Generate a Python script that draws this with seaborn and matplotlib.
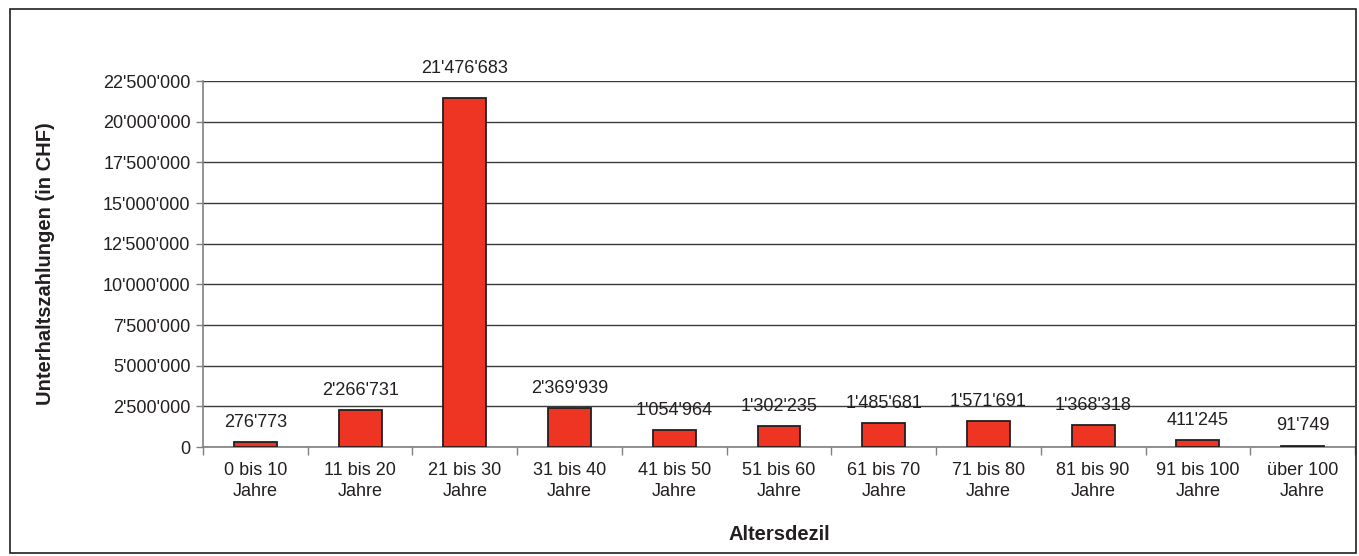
import matplotlib
matplotlib.use("Agg")
import matplotlib.pyplot as plt
import seaborn as sns
import pandas as pd
from matplotlib.patches import Rectangle
from matplotlib.ticker import FixedLocator

categories = ["0 bis 10\nJahre", "11 bis 20\nJahre", "21 bis 30\nJahre", "31 bis 40\nJahre",
              "41 bis 50\nJahre", "51 bis 60\nJahre", "61 bis 70\nJahre", "71 bis 80\nJahre",
              "81 bis 90\nJahre", "91 bis 100\nJahre", "über 100\nJahre"]
values = [276773, 2266731, 21476683, 2369939, 1054964, 1302235, 1485681, 1571691, 1368318, 411245, 91749]
yticks = [0, 2500000, 5000000, 7500000, 10000000, 12500000, 15000000, 17500000, 20000000, 22500000]

def fmt(v):
    return f"{v:,}".replace(",", "'")

sns.set_theme(style="white")
plt.rcParams['font.family'] = ['Liberation Sans', 'DejaVu Sans']

FS = 13
LFS = 14.5
TC = "#231f20"
df = pd.DataFrame({"cat": categories, "val": values})

fig = plt.figure(figsize=(13.59, 5.56), dpi=100)
ax = fig.add_axes([203/1359, 1-447/556, (1355-203)/1359, (447-81)/556])

sns.barplot(data=df, x="cat", y="val", ax=ax, color="#EE3524", saturation=1,
            width=0.41, edgecolor=TC, linewidth=1.3, zorder=3)

ymax = yticks[-1]
ax.set_xlim(-0.5, len(categories)-0.5)
ax.set_ylim(0, ymax)
ax.set_yticks(yticks)
ax.set_yticklabels([fmt(v) for v in yticks], fontsize=FS, color=TC)
ax.yaxis.grid(True, color="#3a3a3a", linewidth=1.0, zorder=0)
ax.set_axisbelow(True)

ax.set_xticks(range(len(categories)))
ax.set_xticklabels(categories, fontsize=FS, color=TC, linespacing=1.25)
ax.tick_params(axis="x", length=0, pad=11)
ax.xaxis.set_minor_locator(FixedLocator([i - 0.5 for i in range(len(categories)+1)]))
ax.tick_params(axis="x", which="minor", length=6, width=1, color="#808080", direction="out", bottom=True)
ax.tick_params(axis="y", length=5, width=1, color="#808080", direction="out", left=True, pad=4)

for s in ["top", "right"]:
    ax.spines[s].set_visible(False)
for s in ["left", "bottom"]:
    ax.spines[s].set_color("#808080")
    ax.spines[s].set_linewidth(1.2)

for i, v in enumerate(values):
    if v > 0.9 * ymax:
        ax.annotate(fmt(v), (i, ymax), xytext=(0, 3), textcoords="offset points",
                    ha="center", va="bottom", fontsize=FS, color=TC, annotation_clip=False)
    else:
        ax.annotate(fmt(v), (i, v), xytext=(0, 8), textcoords="offset points",
                    ha="center", va="bottom", fontsize=FS, color=TC)

ax.set_xlabel("Altersdezil", fontsize=LFS, fontweight="bold", color=TC)
ax.set_ylabel("Unterhaltszahlungen (in CHF)", fontsize=LFS, fontweight="bold", color=TC)
ax.xaxis.label.set_verticalalignment("center")
ax.xaxis.set_label_coords(0.5, -(534-447)/366)
ax.yaxis.label.set_verticalalignment("center")
ax.yaxis.set_label_coords(-(203-46)/1152, 0.5)

fig.patches.append(Rectangle((10/1359, 1-553/556), (1356-10)/1359, (553-9)/556,
                             transform=fig.transFigure, fill=False, edgecolor=TC, linewidth=1.2))

fig.savefig("out.png", dpi=100)
